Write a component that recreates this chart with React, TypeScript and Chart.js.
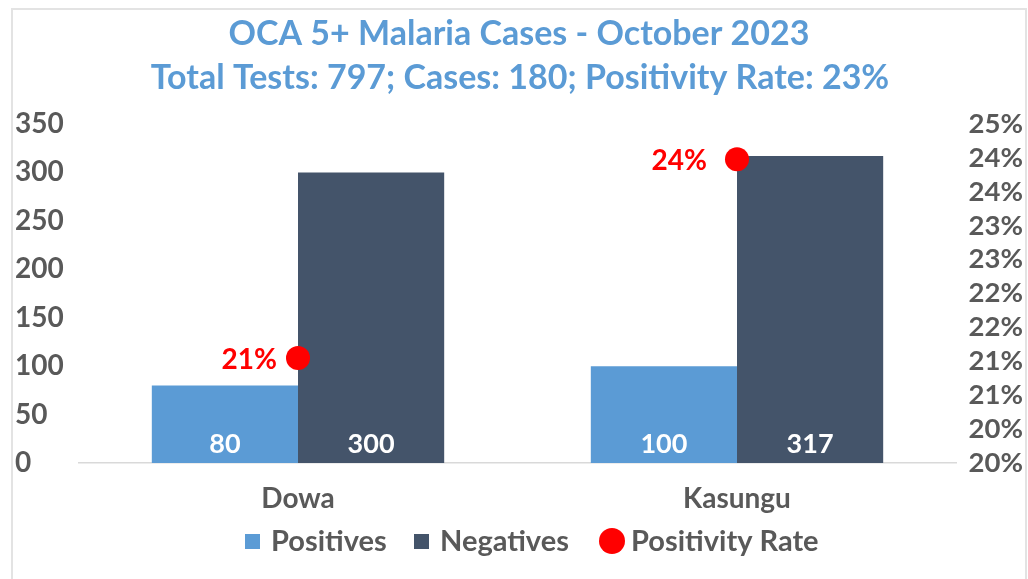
import React, { useEffect, useRef } from "react";
import { Chart, registerables } from "chart.js";

Chart.register(...registerables);

const categories = ["Dowa", "Kasungu"];
const positives = [80, 100];
const negatives = [300, 317];
const positivityRate = [0.2105, 0.2398];
const titleLines = [
  "OCA 5+ Malaria Cases - October 2023",
  "Total Tests: 797; Cases: 180; Positivity Rate: 23%",
];
const legendLabels = ["Positives", "Negatives", "Positivity Rate"];

const BLUE = "#5B9BD5";
const SLATE = "#44546A";
const RED = "#FF0000";
const GREY = "#595959";
const FONT = "Lato, 'Open Sans', sans-serif";

const fmtPct = (v: number) => Math.round(Math.round(v * 1000) / 10) + "%";

const decorPlugin = {
  id: "decor",
  beforeDraw(chart: any) {
    const ctx = chart.ctx;
    ctx.save();
    ctx.fillStyle = "#ffffff";
    ctx.fillRect(0, 0, chart.width, chart.height);
    ctx.strokeStyle = "#e3e3e3";
    ctx.lineWidth = 2;
    ctx.beginPath();
    ctx.moveTo(12, chart.height + 5);
    ctx.lineTo(12, 9);
    ctx.lineTo(1026, 9);
    ctx.lineTo(1026, chart.height + 5);
    ctx.stroke();
    ctx.restore();
  },
  afterDatasetsDraw(chart: any) {
    const ctx = chart.ctx;
    ctx.save();
    // bar value labels
    [0, 1].forEach((di) => {
      const meta = chart.getDatasetMeta(di);
      const data = chart.data.datasets[di].data;
      meta.data.forEach((el: any, i: number) => {
        ctx.font = `bold 27px ${FONT}`;
        ctx.fillStyle = "#ffffff";
        ctx.textAlign = "center";
        ctx.textBaseline = "middle";
        ctx.fillText(String(data[i]), el.x, el.base - 19);
      });
    });
    // rate labels
    const meta = chart.getDatasetMeta(2);
    const data = chart.data.datasets[2].data;
    const gaps = [21, 30];
    meta.data.forEach((el: any, i: number) => {
      ctx.font = `bold 28px ${FONT}`;
      ctx.fillStyle = RED;
      ctx.textAlign = "right";
      ctx.textBaseline = "middle";
      ctx.fillText(fmtPct(data[i]), el.x - gaps[i], el.y + 2);
    });
    ctx.restore();
  },
  afterDraw(chart: any) {
    const ctx = chart.ctx;
    ctx.save();
    // titles
    ctx.font = `bold 34px ${FONT}`;
    ctx.fillStyle = BLUE;
    ctx.textAlign = "center";
    ctx.textBaseline = "alphabetic";
    ctx.fillText(titleLines[0], 519, 45);
    ctx.fillText(titleLines[1], 520, 89);
    // legend
    ctx.font = `bold 29px ${FONT}`;
    ctx.textAlign = "left";
    ctx.textBaseline = "middle";
    const ly = 541;
    ctx.fillStyle = BLUE;
    ctx.fillRect(245, ly - 7, 15, 15);
    ctx.fillStyle = GREY;
    ctx.fillText(legendLabels[0], 271, ly + 1);
    ctx.fillStyle = SLATE;
    ctx.fillRect(414, ly - 7, 15, 15);
    ctx.fillStyle = GREY;
    ctx.fillText(legendLabels[1], 440, ly + 1);
    ctx.fillStyle = RED;
    ctx.beginPath();
    ctx.arc(612, ly, 13, 0, Math.PI * 2);
    ctx.fill();
    ctx.fillStyle = GREY;
    ctx.fillText(legendLabels[2], 631, ly + 1);
    ctx.restore();
  },
};

export default function App() {
  const ref = useRef<HTMLCanvasElement | null>(null);
  useEffect(() => {
    if (!ref.current) return;
    const chart = new Chart(ref.current, {
      type: "bar",
      data: {
        labels: categories,
        datasets: [
          {
            type: "bar",
            label: legendLabels[0],
            data: positives,
            backgroundColor: BLUE,
            yAxisID: "y",
            categoryPercentage: 0.666,
            barPercentage: 1.0,
            order: 2,
          },
          {
            type: "bar",
            label: legendLabels[1],
            data: negatives,
            backgroundColor: SLATE,
            yAxisID: "y",
            categoryPercentage: 0.666,
            barPercentage: 1.0,
            order: 2,
          },
          {
            type: "line",
            label: legendLabels[2],
            data: positivityRate,
            showLine: false,
            pointRadius: 12,
            pointHoverRadius: 12,
            pointBackgroundColor: RED,
            pointBorderWidth: 0,
            backgroundColor: RED,
            borderColor: RED,
            yAxisID: "y1",
            order: 1,
          },
        ] as any,
      },
      options: {
        animation: false,
        responsive: false,
        maintainAspectRatio: false,
        layout: { padding: { left: 15, right: 0, top: 124, bottom: 66 } },
        plugins: {
          legend: { display: false },
          title: { display: false },
          tooltip: { enabled: false },
        },
        scales: {
          x: {
            grid: { display: false, drawTicks: false },
            border: { display: true, color: "#d9d9d9", width: 1.5 },
            ticks: {
              color: GREY,
              font: { family: FONT, size: 28, weight: "bold" },
              padding: 19,
            },
            afterFit: (s: any) => {
              s.height = 50;
            },
          },
          y: {
            position: "left",
            min: 0,
            max: 350,
            grid: { display: false, drawTicks: false },
            border: { display: false },
            ticks: {
              stepSize: 50,
              autoSkip: false,
              color: GREY,
              crossAlign: "far",
              font: { family: FONT, size: 28, weight: "bold" },
            },
            afterFit: (s: any) => {
              s.width = 63.5;
            },
          },
          y1: {
            position: "right",
            min: 0.195,
            max: 0.245,
            grid: { display: false, drawTicks: false },
            border: { display: false },
            ticks: {
              stepSize: 0.005,
              autoSkip: false,
              color: GREY,
              padding: 12,
              font: { family: FONT, size: 27.5, weight: "bold" },
              callback: (v: any) => fmtPct(Number(v)),
            },
            afterFit: (s: any) => {
              s.width = 71.5;
            },
          },
        },
      } as any,
      plugins: [decorPlugin],
    });
    return () => chart.destroy();
  }, []);
  return (
    <div style={{ position: "fixed", left: 0, top: 0, width: 1028, height: 579 }}>
      <canvas ref={ref} width={1028} height={579} style={{ width: 1028, height: 579, display: "block" }} />
    </div>
  );
}
